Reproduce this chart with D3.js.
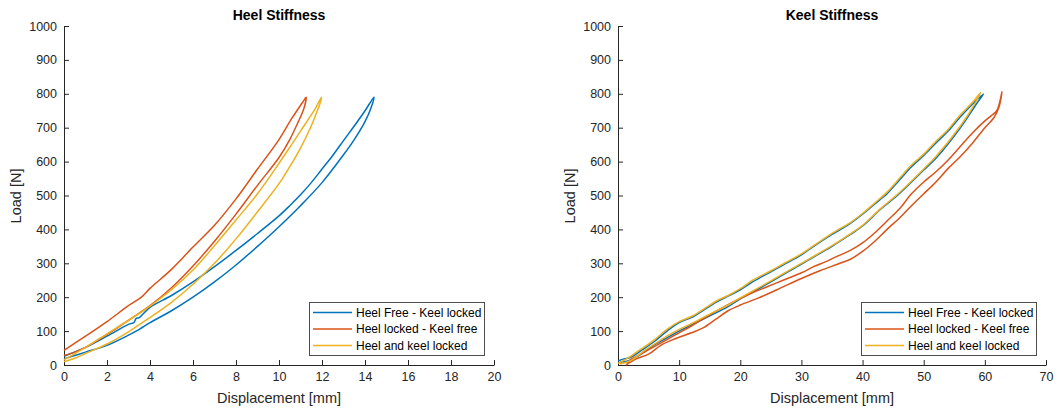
<!DOCTYPE html>
<html>
<head>
<meta charset="utf-8">
<script src="https://cdn.jsdelivr.net/npm/d3@7"></script>
<style>
  body { margin: 0; background: #fff; }
  text { font-family: "Liberation Sans", Arial, sans-serif; fill: #262626; }
</style>
</head>
<body>
<script>

//Data______________________________________________________________________________________________
var seriesNames = ["Heel Free - Keel locked", "Heel locked - Keel free", "Heel and keel locked"];
var seriesColors = ["#0072BD", "#D95319", "#EDB120"];

var heelTicksX = [0, 2, 4, 6, 8, 10, 12, 14, 16, 18, 20];
var keelTicksX = [0, 10, 20, 30, 40, 50, 60, 70];
var loadTicks = [0, 100, 200, 300, 400, 500, 600, 700, 800, 900, 1000];

// Heel stiffness: loading then unloading (mm / N)
var heelBlueDisp = [0, 0.5, 1, 2, 3, 3.5, 4, 5, 6, 7, 8, 9, 10, 11, 12, 13, 13.5, 14, 14.3, 14.42,
    14.2, 14, 13.5, 13, 12.5, 12, 11.5, 11, 10.5, 10, 9, 8, 7, 6, 5, 4, 3.5, 3.35, 3.25, 3, 2, 1, 0];
var heelBlueLoad = [18, 28, 38, 58, 88, 105, 125, 160, 200, 245, 295, 350, 408, 470, 538, 620, 665, 718, 762, 790,
    770, 750, 705, 662, 618, 578, 538, 502, 470, 440, 388, 338, 290, 245, 205, 170, 140, 137, 125, 120, 85, 52, 26];

var heelRedDisp = [0, 0.5, 1, 2, 3, 4, 5, 6, 7, 8, 9, 10, 10.5, 10.9, 11.15, 11.26,
    11.1, 10.6, 10, 9, 8, 7, 6, 5, 4, 3.6, 3, 2, 1, 0];
var heelRedLoad = [28, 38, 52, 90, 132, 175, 228, 292, 365, 445, 530, 612, 665, 718, 755, 790,
    775, 728, 665, 578, 490, 412, 348, 282, 226, 200, 175, 128, 85, 43];

var heelYellowDisp = [0, 0.5, 1, 2, 3, 4, 5, 6, 7, 7.5, 8, 9, 10, 10.5, 11, 11.5, 11.75, 11.9, 11.98,
    11.7, 11.4, 11, 10.5, 10, 9, 8, 7, 6, 5, 4, 3, 2, 1, 0];
var heelYellowLoad = [10, 20, 34, 62, 98, 140, 185, 238, 300, 335, 372, 452, 535, 585, 640, 705, 745, 770, 790,
    758, 728, 690, 642, 595, 505, 428, 352, 280, 222, 174, 132, 92, 52, 15];

// Keel stiffness: loading then unloading (mm / N)
var keelBlueDisp = [0.3, 2, 4, 6, 8, 10, 12, 15, 18, 20, 25, 30, 35, 38, 40, 43, 46, 50, 52, 56, 58.7, 59.8,
    58, 56, 54, 52, 50, 48, 46, 44, 42, 40, 38, 35, 32, 30, 27, 25, 22, 20, 18, 16, 14, 12, 10, 8, 6, 4, 2, 1, 0];
var keelBlueLoad = [8, 14, 35, 60, 80, 100, 118, 145, 172, 195, 245, 298, 350, 385, 410, 460, 505, 575, 610, 700, 772, 800,
    770, 732, 690, 655, 618, 585, 545, 505, 475, 445, 418, 385, 350, 325, 295, 275, 245, 222, 203, 185, 162, 140, 125, 100, 70, 45, 22, 18, 12];

var keelRedDisp = [1.3, 3, 5, 7, 9, 10, 12, 14, 16, 18, 20, 23, 26, 30, 33, 36, 38, 40, 42, 44, 46, 48, 50, 52, 54, 56, 58, 60, 61.5, 62.3, 62.8,
    62, 61, 60, 58, 56, 54, 52, 50, 48, 46, 44, 42, 40, 38, 36, 34, 32, 30, 27, 24, 21, 18, 15, 12, 10, 8, 6, 4, 2, 1.5];
var keelRedLoad = [0, 18, 32, 58, 75, 82, 95, 110, 135, 160, 177, 198, 222, 255, 278, 298, 312, 335, 365, 400, 433, 470, 505, 540, 580, 615, 655, 700, 730, 760, 806,
    752, 735, 720, 685, 645, 605, 570, 540, 505, 460, 425, 390, 360, 338, 322, 305, 290, 272, 250, 228, 205, 178, 148, 115, 95, 75, 55, 35, 15, 3];

var keelYellowDisp = [0.3, 2, 4, 6, 8, 10, 12, 15, 18, 20, 25, 30, 35, 38, 40, 43, 46, 50, 52, 56, 58.5, 59.3,
    58, 56, 54, 52, 50, 48, 46, 44, 42, 40, 38, 35, 32, 30, 27, 25, 22, 20, 18, 16, 14, 12, 10, 8, 6, 4, 2, 0];
var keelYellowLoad = [3, 12, 38, 62, 85, 105, 122, 150, 177, 198, 248, 300, 352, 387, 412, 462, 508, 578, 615, 705, 775, 803,
    775, 738, 695, 660, 622, 590, 550, 510, 478, 447, 420, 388, 352, 328, 298, 278, 250, 225, 205, 188, 165, 143, 128, 105, 75, 50, 25, 5];

//Layout____________________________________________________________________________________________
var W = 1057, H = 411;

var svg = d3.select("body")
    .append("svg")
        .attr("width", W)
        .attr("height", H);

function drawPanel(opt) {
    var x = d3.scaleLinear().domain([0, opt.xMax]).range([opt.left, opt.right]);
    var y = d3.scaleLinear().domain([0, 1000]).range([365, 26]);

    var g = svg.append("g");

    // axes
    var bottomAxis = d3.axisBottom(x).tickValues(opt.xTicks).tickFormat(d3.format("d"))
        .tickSizeInner(-5).tickSizeOuter(0).tickPadding(7);
    g.append("g")
        .attr("transform", "translate(0,365)")
        .call(bottomAxis);

    var leftAxis = d3.axisLeft(y).tickValues(loadTicks).tickFormat(d3.format("d"))
        .tickSizeInner(-5).tickSizeOuter(0).tickPadding(7);
    g.append("g")
        .attr("transform", "translate(" + opt.left + ",0)")
        .call(leftAxis);

    g.selectAll(".domain, .tick line").attr("stroke", "#262626");
    g.selectAll(".tick text")
        .attr("font-size", "12.5px")
        .attr("font-family", "Liberation Sans, Arial, sans-serif")
        .style("fill", "#262626");

    var cx = (opt.left + opt.right) / 2;

    // title
    g.append("text")
        .attr("x", cx)
        .attr("y", 20)
        .attr("text-anchor", "middle")
        .attr("font-size", "14px")
        .attr("font-weight", "bold")
        .style("fill", "#000")
        .text(opt.title);

    // axis labels
    g.append("text")
        .attr("x", cx)
        .attr("y", 403)
        .attr("text-anchor", "middle")
        .attr("font-size", "14.5px")
        .text("Displacement [mm]");

    g.append("text")
        .attr("transform", "translate(" + (opt.left - 43) + ",196) rotate(-90)")
        .attr("text-anchor", "middle")
        .attr("font-size", "14.5px")
        .text("Load [N]");

    // curves
    var line = d3.line()
        .curve(d3.curveCatmullRom.alpha(0.5))
        .x((d) => x(d[0]))
        .y((d) => y(d[1]));

    opt.series.forEach((s, i) => {
        g.append("path")
            .datum(d3.zip(s[0], s[1]))
            .attr("fill", "none")
            .attr("stroke", seriesColors[i])
            .attr("stroke-width", 1.5)
            .attr("stroke-linejoin", "round")
            .attr("d", line);
    });

    // legend
    var lg = g.append("g").attr("transform", "translate(" + opt.legendX + ",302)");
    lg.append("rect")
        .attr("x", 0.5)
        .attr("y", 0.5)
        .attr("width", 175)
        .attr("height", 53)
        .attr("fill", "#fff")
        .attr("stroke", "#4d4d4d")
        .attr("stroke-width", 1);

    seriesNames.forEach((name, i) => {
        var yy = 10.5 + i * 16.5;
        lg.append("line")
            .attr("x1", 4)
            .attr("x2", 43)
            .attr("y1", yy)
            .attr("y2", yy)
            .attr("stroke", seriesColors[i])
            .attr("stroke-width", 1.5);
        lg.append("text")
            .attr("x", 47)
            .attr("y", yy + 4.2)
            .attr("font-size", "12px")
            .style("fill", "#000")
            .text(name);
    });
}

drawPanel({
    title: "Heel Stiffness",
    left: 64, right: 494, xMax: 20, xTicks: heelTicksX, legendX: 309,
    series: [[heelBlueDisp, heelBlueLoad], [heelRedDisp, heelRedLoad], [heelYellowDisp, heelYellowLoad]]
});

drawPanel({
    title: "Keel Stiffness",
    left: 618, right: 1046, xMax: 70, xTicks: keelTicksX, legendX: 861,
    series: [[keelBlueDisp, keelBlueLoad], [keelRedDisp, keelRedLoad], [keelYellowDisp, keelYellowLoad]]
});

</script>
</body>
</html>
